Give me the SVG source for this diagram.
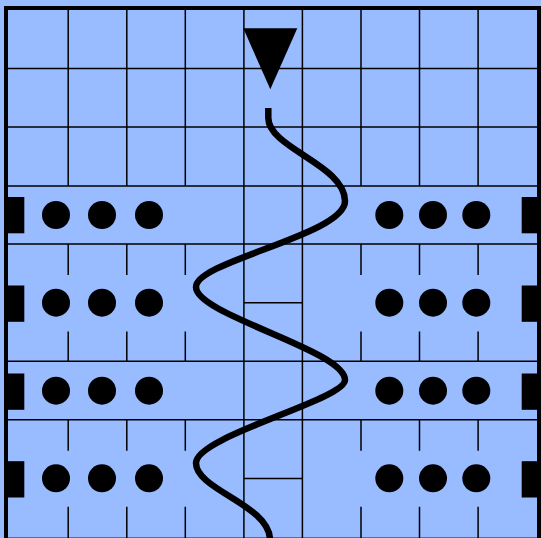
<svg xmlns="http://www.w3.org/2000/svg" width="541" height="538" viewBox="0 0 541 538">
<style>
.g{stroke:#000;stroke-width:1.5;fill:none}
.d{fill:#000}
.b{fill:#000}
.c{fill:none;stroke:#000;stroke-width:6.5;stroke-linecap:butt}
</style>
<rect x="0" y="0" width="541" height="538" fill="#99bbff"/>
<g id="grid" class="g">
<path d="M68.2,8V186M126.8,8V186M185.3,8V186M361,8V186M419.5,8V186M478.1,8V186"/>
<path d="M8,68.5H537M8,127.1H537"/>
<path d="M8,186H537M8,244H537M8,361.2H537M8,419.8H537"/>
<path d="M8,538H537" stroke="#445577"/>
<path d="M243.9,8V538M302.4,8V538M243.9,302.7H302.4M243.9,478.4H302.4"/>
<path d="M68.2,244V275M126.8,244V275M185.3,244V275M361,244V275M419.5,244V275M478.1,244V275"/>
<path d="M68.2,331.5V361.2M126.8,331.5V361.2M185.3,331.5V361.2M361,331.5V361.2M419.5,331.5V361.2M478.1,331.5V361.2"/>
<path d="M68.2,419.8V450.7M126.8,419.8V450.7M185.3,419.8V450.7M361,419.8V450.7M419.5,419.8V450.7M478.1,419.8V450.7"/>
<path d="M68.2,506.7V538M126.8,506.7V538M185.3,506.7V538M361,506.7V538M419.5,506.7V538M478.1,506.7V538"/>
</g>
<rect id="frame" x="6" y="8" width="533" height="540" fill="none" stroke="#000" stroke-width="4"/>
<g id="blocks-left" class="b">
<rect x="4" y="197" width="20.3" height="36.3"/>
<rect x="4" y="285.5" width="20.3" height="36.3"/>
<rect x="4" y="373.5" width="20.3" height="36.3"/>
<rect x="4" y="461.2" width="20.3" height="36.3"/>
</g>
<g id="blocks-right" class="b">
<rect x="521.7" y="197" width="20" height="36.3"/>
<rect x="521.7" y="285.5" width="20" height="36.3"/>
<rect x="521.7" y="373.5" width="20" height="36.3"/>
<rect x="521.7" y="461.2" width="20" height="36.3"/>
</g>
<g id="dots-row1" class="d">
<circle cx="56" cy="215" r="14"/><circle cx="102" cy="215" r="14"/><circle cx="149" cy="215" r="14"/>
<circle cx="389.3" cy="215" r="14"/><circle cx="433" cy="215" r="14"/><circle cx="476.3" cy="215" r="14"/>
</g>
<g id="dots-row2" class="d">
<circle cx="56" cy="302.7" r="14"/><circle cx="102" cy="302.7" r="14"/><circle cx="149" cy="302.7" r="14"/>
<circle cx="389.3" cy="302.7" r="14"/><circle cx="433" cy="302.7" r="14"/><circle cx="476.3" cy="302.7" r="14"/>
</g>
<g id="dots-row3" class="d">
<circle cx="56" cy="390.7" r="14"/><circle cx="102" cy="390.7" r="14"/><circle cx="149" cy="390.7" r="14"/>
<circle cx="389.3" cy="390.7" r="14"/><circle cx="433" cy="390.7" r="14"/><circle cx="476.3" cy="390.7" r="14"/>
</g>
<g id="dots-row4" class="d">
<circle cx="56" cy="478.3" r="14"/><circle cx="102" cy="478.3" r="14"/><circle cx="149" cy="478.3" r="14"/>
<circle cx="389.3" cy="478.3" r="14"/><circle cx="433" cy="478.3" r="14"/><circle cx="476.3" cy="478.3" r="14"/>
</g>
<g id="start-marker">
<polygon points="243.3,28.3 297.3,28.3 270.3,89.3" fill="#000"/>
</g>
<g id="connectors">
<path class="c" d="M268.3,108 L268.3,118 C268.3,148 345,165 345,201 C345,235 196,261 196,287 C196,315 345,350 345,380 C345,400 196,436 196,463 C196,490 270,505 270,540"/>
</g>
</svg>
